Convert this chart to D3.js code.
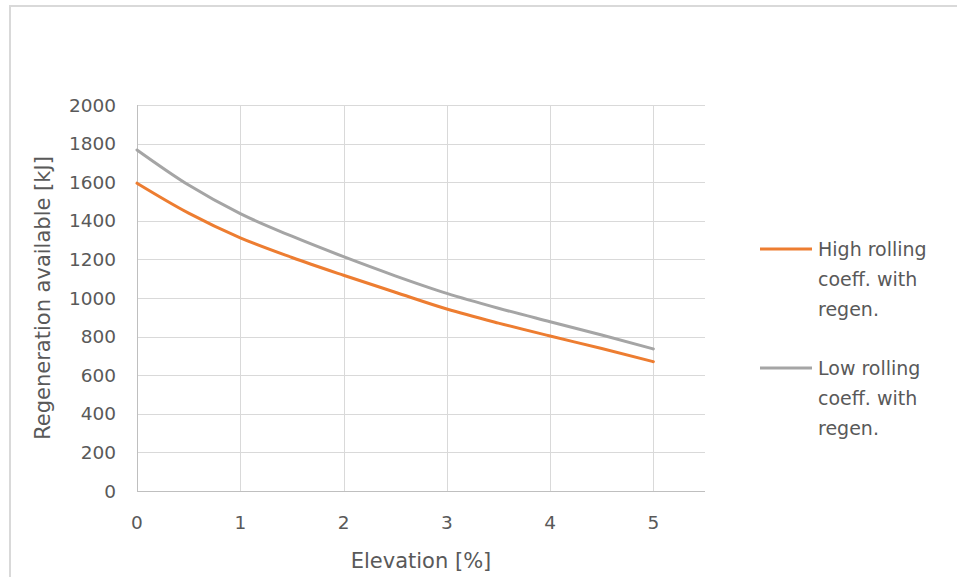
<!DOCTYPE html>
<html><head><meta charset="utf-8">
<script src="https://cdn.jsdelivr.net/npm/d3@7"></script>
<style>
html,body{margin:0;padding:0;background:#fff;}
svg{display:block;font-family:"DejaVu Sans",sans-serif;}
</style></head>
<body><svg id="c" width="957" height="577"></svg>
<script>
const elevation = [0, 0.5, 1, 1.5, 2, 2.5, 3, 3.5, 4, 4.5, 5];
const highRolling = [1595, 1440, 1312, 1210, 1118, 1030, 943, 870, 803, 738, 670];
const lowRolling = [1767, 1585, 1437, 1320, 1214, 1115, 1024, 947, 877, 808, 736];
const xTicks = [0, 1, 2, 3, 4, 5];
const yTicks = [0, 200, 400, 600, 800, 1000, 1200, 1400, 1600, 1800, 2000];
const seriesNames = [["High rolling", "coeff. with", "regen."], ["Low rolling", "coeff. with", "regen."]];
const colors = ["#ED7D31", "#A5A5A5"];

const svg = d3.select("#c");
// frame
svg.append("line").attr("x1", 9).attr("x2", 957).attr("y1", 6).attr("y2", 6).attr("stroke", "#d9d9d9").attr("stroke-width", 2);
svg.append("line").attr("x1", 10).attr("x2", 10).attr("y1", 5).attr("y2", 577).attr("stroke", "#d9d9d9").attr("stroke-width", 2);

const L = 137, R = 705, T = 105, B = 491;
const x = d3.scaleLinear().domain([0, 5.5]).range([L, R]);
const y = d3.scaleLinear().domain([0, 2000]).range([B, T]);

const g = svg.append("g");
g.selectAll(".hg").data(yTicks).join("line")
  .attr("x1", L).attr("x2", R).attr("y1", d => Math.round(y(d)) + 0.5).attr("y2", d => Math.round(y(d)) + 0.5)
  .attr("stroke", "#d9d9d9").attr("stroke-width", 1);
g.selectAll(".vg").data(xTicks).join("line")
  .attr("x1", d => Math.round(x(d)) + 0.5).attr("x2", d => Math.round(x(d)) + 0.5).attr("y1", T).attr("y2", B)
  .attr("stroke", "#d9d9d9").attr("stroke-width", 1);
g.append("line").attr("x1", L).attr("x2", R).attr("y1", Math.round(y(0)) + 0.5).attr("y2", Math.round(y(0)) + 0.5).attr("stroke", "#bfbfbf");
g.append("line").attr("x1", Math.round(x(0)) + 0.5).attr("x2", Math.round(x(0)) + 0.5).attr("y1", T).attr("y2", B).attr("stroke", "#bfbfbf");

g.selectAll(".yl").data(yTicks).join("text")
  .attr("x", 116).attr("y", d => y(d)).attr("dy", "0.36em").attr("text-anchor", "end")
  .attr("font-size", 18.5).attr("fill", "#595959").text(d => d);
g.selectAll(".xl").data(xTicks).join("text")
  .attr("x", d => x(d)).attr("y", 522).attr("dy", "0.36em").attr("text-anchor", "middle")
  .attr("font-size", 18.5).attr("fill", "#595959").text(d => d);

svg.append("text").attr("x", 421).attr("y", 560).attr("dy", "0.36em").attr("text-anchor", "middle")
  .attr("font-size", 21).attr("fill", "#595959").text("Elevation [%]");
svg.append("text").attr("transform", "translate(42,298) rotate(-90)").attr("dy", "0.36em").attr("text-anchor", "middle")
  .attr("font-size", 21).attr("fill", "#595959").text("Regeneration available [kJ]");

const line = d3.line().x(d => x(d[0])).y(d => y(d[1])).curve(d3.curveMonotoneX);
[highRolling, lowRolling].forEach((s, i) => {
  svg.append("path").datum(elevation.map((e, j) => [e, s[j]]))
    .attr("d", line).attr("fill", "none").attr("stroke", colors[i]).attr("stroke-width", 3).attr("stroke-linecap", "round");
});

const legY = [249, 368];
seriesNames.forEach((lines, i) => {
  const lg = svg.append("g");
  lg.append("line").attr("x1", 760).attr("x2", 812).attr("y1", legY[i]).attr("y2", legY[i])
    .attr("stroke", colors[i]).attr("stroke-width", 3);
  lines.forEach((t, k) => {
    lg.append("text").attr("x", 818).attr("y", legY[i] + k * 30).attr("dy", "0.36em")
      .attr("font-size", 19).attr("fill", "#595959").text(t);
  });
});
</script></body></html>
